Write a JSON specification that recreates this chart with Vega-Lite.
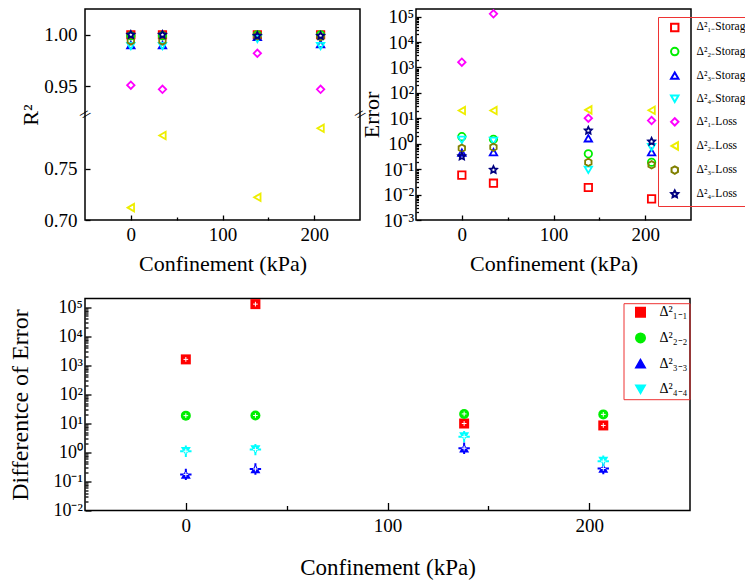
{
  "$schema": "https://vega.github.io/schema/vega-lite/v6.json",
  "background": "white",
  "padding": {"left": 7, "top": 5, "right": 0, "bottom": 0},
  "bounds": "flush",
  "spacing": 289.5,
  "resolve": {
    "scale": {"color": "independent", "shape": "independent", "stroke": "independent"},
    "legend": {"color": "independent", "shape": "independent"}
  },
  "datasets": {
    "r2": [
      {"kPa": 0, "series": "Δ²₁₋Storage", "r2": 1.000},
      {"kPa": 0, "series": "Δ²₂₋Storage", "r2": 0.999},
      {"kPa": 0, "series": "Δ²₃₋Storage", "r2": 0.990},
      {"kPa": 0, "series": "Δ²₄₋Storage", "r2": 0.989},
      {"kPa": 0, "series": "Δ²₁₋Loss", "r2": 0.951},
      {"kPa": 0, "series": "Δ²₂₋Loss", "r2": 0.712},
      {"kPa": 0, "series": "Δ²₃₋Loss", "r2": 0.994},
      {"kPa": 0, "series": "Δ²₄₋Loss", "r2": 1.000},
      {"kPa": 34.5, "series": "Δ²₁₋Storage", "r2": 1.000},
      {"kPa": 34.5, "series": "Δ²₂₋Storage", "r2": 0.999},
      {"kPa": 34.5, "series": "Δ²₃₋Storage", "r2": 0.990},
      {"kPa": 34.5, "series": "Δ²₄₋Storage", "r2": 0.989},
      {"kPa": 34.5, "series": "Δ²₁₋Loss", "r2": 0.947},
      {"kPa": 34.5, "series": "Δ²₂₋Loss", "r2": 0.782},
      {"kPa": 34.5, "series": "Δ²₃₋Loss", "r2": 0.994},
      {"kPa": 34.5, "series": "Δ²₄₋Loss", "r2": 1.000},
      {"kPa": 138, "series": "Δ²₁₋Storage", "r2": 1.000},
      {"kPa": 138, "series": "Δ²₂₋Storage", "r2": 1.000},
      {"kPa": 138, "series": "Δ²₃₋Storage", "r2": 0.998},
      {"kPa": 138, "series": "Δ²₄₋Storage", "r2": 0.996},
      {"kPa": 138, "series": "Δ²₁₋Loss", "r2": 0.982},
      {"kPa": 138, "series": "Δ²₂₋Loss", "r2": 0.722},
      {"kPa": 138, "series": "Δ²₃₋Loss", "r2": 0.999},
      {"kPa": 138, "series": "Δ²₄₋Loss", "r2": 0.999},
      {"kPa": 207, "series": "Δ²₁₋Storage", "r2": 1.000},
      {"kPa": 207, "series": "Δ²₂₋Storage", "r2": 1.000},
      {"kPa": 207, "series": "Δ²₃₋Storage", "r2": 0.991},
      {"kPa": 207, "series": "Δ²₄₋Storage", "r2": 0.989},
      {"kPa": 207, "series": "Δ²₁₋Loss", "r2": 0.947},
      {"kPa": 207, "series": "Δ²₂₋Loss", "r2": 0.789},
      {"kPa": 207, "series": "Δ²₃₋Loss", "r2": 0.998},
      {"kPa": 207, "series": "Δ²₄₋Loss", "r2": 0.999}
    ],
    "err": [
      {"kPa": 0, "series": "Δ²₁₋Storage", "err": 0.058},
      {"kPa": 0, "series": "Δ²₂₋Storage", "err": 1.9},
      {"kPa": 0, "series": "Δ²₃₋Storage", "err": 0.45},
      {"kPa": 0, "series": "Δ²₄₋Storage", "err": 1.42},
      {"kPa": 0, "series": "Δ²₁₋Loss", "err": 1620},
      {"kPa": 0, "series": "Δ²₂₋Loss", "err": 20.2},
      {"kPa": 0, "series": "Δ²₃₋Loss", "err": 0.665},
      {"kPa": 0, "series": "Δ²₄₋Loss", "err": 0.32},
      {"kPa": 34.5, "series": "Δ²₁₋Storage", "err": 0.028},
      {"kPa": 34.5, "series": "Δ²₂₋Storage", "err": 1.5},
      {"kPa": 34.5, "series": "Δ²₃₋Storage", "err": 0.47},
      {"kPa": 34.5, "series": "Δ²₄₋Storage", "err": 1.3},
      {"kPa": 34.5, "series": "Δ²₁₋Loss", "err": 129000},
      {"kPa": 34.5, "series": "Δ²₂₋Loss", "err": 20.2},
      {"kPa": 34.5, "series": "Δ²₃₋Loss", "err": 0.73},
      {"kPa": 34.5, "series": "Δ²₄₋Loss", "err": 0.094},
      {"kPa": 138, "series": "Δ²₁₋Storage", "err": 0.019},
      {"kPa": 138, "series": "Δ²₂₋Storage", "err": 0.40},
      {"kPa": 138, "series": "Δ²₃₋Storage", "err": 1.64},
      {"kPa": 138, "series": "Δ²₄₋Storage", "err": 0.094},
      {"kPa": 138, "series": "Δ²₁₋Loss", "err": 10.1},
      {"kPa": 138, "series": "Δ²₂₋Loss", "err": 21.5},
      {"kPa": 138, "series": "Δ²₃₋Loss", "err": 0.187},
      {"kPa": 138, "series": "Δ²₄₋Loss", "err": 3.3},
      {"kPa": 207, "series": "Δ²₁₋Storage", "err": 0.0068},
      {"kPa": 207, "series": "Δ²₂₋Storage", "err": 0.187},
      {"kPa": 207, "series": "Δ²₃₋Storage", "err": 0.47},
      {"kPa": 207, "series": "Δ²₄₋Storage", "err": 0.73},
      {"kPa": 207, "series": "Δ²₁₋Loss", "err": 8.2},
      {"kPa": 207, "series": "Δ²₂₋Loss", "err": 20.8},
      {"kPa": 207, "series": "Δ²₃₋Loss", "err": 0.148},
      {"kPa": 207, "series": "Δ²₄₋Loss", "err": 1.22}
    ],
    "diff": [
      {"kPa": 0, "series": "Δ²₁₋₁", "diff": 1600},
      {"kPa": 0, "series": "Δ²₂₋₂", "diff": 18.5},
      {"kPa": 0, "series": "Δ²₃₋₃", "diff": 0.175},
      {"kPa": 0, "series": "Δ²₄₋₄", "diff": 1.1},
      {"kPa": 34.5, "series": "Δ²₁₋₁", "diff": 128000},
      {"kPa": 34.5, "series": "Δ²₂₋₂", "diff": 18.7},
      {"kPa": 34.5, "series": "Δ²₃₋₃", "diff": 0.27},
      {"kPa": 34.5, "series": "Δ²₄₋₄", "diff": 1.25},
      {"kPa": 138, "series": "Δ²₁₋₁", "diff": 9.9},
      {"kPa": 138, "series": "Δ²₂₋₂", "diff": 21.2},
      {"kPa": 138, "series": "Δ²₃₋₃", "diff": 1.4},
      {"kPa": 138, "series": "Δ²₄₋₄", "diff": 3.5},
      {"kPa": 207, "series": "Δ²₁₋₁", "diff": 8.5},
      {"kPa": 207, "series": "Δ²₂₋₂", "diff": 20.4},
      {"kPa": 207, "series": "Δ²₃₋₃", "diff": 0.28},
      {"kPa": 207, "series": "Δ²₄₋₄", "diff": 0.5}
    ]
  },
  "vconcat": [
    {
      "hconcat": [
        {
          "width": 275,
          "height": 211,
          "layer": [
            {
              "data": {"name": "r2"},
              "mark": {"type": "point", "filled": false, "strokeWidth": 1.8, "size": 55, "opacity": 1},
              "encoding": {
                "x": {
                  "field": "kPa", "type": "quantitative",
                  "scale": {"domain": [-50, 250], "nice": false, "zero": false},
                  "axis": {
                    "title": "Confinement (kPa)",
                    "values": [0, 50, 100, 150, 200],
                    "labelExpr": "datum.value % 100 === 0 ? datum.label : ''",
                    "tickSize": {"condition": {"test": "datum.value % 100 === 0", "value": -5}, "value": -3}
                  }
                },
                "y": {
                  "field": "r2", "type": "quantitative",
                  "scale": {"domain": [0.70, 0.80, 0.925, 1.025], "range": [211, 108, 103, 0], "nice": false, "zero": false},
                  "axis": {
                    "title": "R²",
                    "labelPadding": 13,
                    "titlePadding": 1.5,
                    "values": [0.70, 0.725, 0.75, 0.775, 0.95, 0.975, 1.00],
                    "labelExpr": "round(datum.value * 1000) % 50 === 0 ? format(datum.value, '.2f') : ''",
                    "tickSize": {"condition": {"test": "round(datum.value * 1000) % 50 === 0", "value": -5}, "value": -3}
                  }
                },
                "color": {
                  "field": "series", "type": "nominal",
                  "scale": {
                    "domain": ["Δ²₁₋Storage", "Δ²₂₋Storage", "Δ²₃₋Storage", "Δ²₄₋Storage", "Δ²₁₋Loss", "Δ²₂₋Loss", "Δ²₃₋Loss", "Δ²₄₋Loss"],
                    "range": ["#ff0000", "#00ee00", "#0000ff", "#00ffff", "#ff00ff", "#eeee00", "#808000", "#000080"]
                  },
                  "legend": null
                },
                "shape": {
                  "field": "series", "type": "nominal",
                  "scale": {
                    "domain": ["Δ²₁₋Storage", "Δ²₂₋Storage", "Δ²₃₋Storage", "Δ²₄₋Storage", "Δ²₁₋Loss", "Δ²₂₋Loss", "Δ²₃₋Loss", "Δ²₄₋Loss"],
                    "range": ["square", "circle", "triangle-up", "triangle-down", "diamond", "triangle-left", "M0,-1L0.866,-0.5L0.866,0.5L0,1L-0.866,0.5L-0.866,-0.5Z", "M0,-1L0.294,-0.405L0.951,-0.309L0.476,0.155L0.588,0.809L0,0.5L-0.588,0.809L-0.476,0.155L-0.951,-0.309L-0.294,-0.405Z"]
                  },
                  "legend": null
                }
              }
            },
            {
              "data": {"values": [{}]},
              "mark": {"type": "text", "text": "//", "fontSize": 13, "fontWeight": "bold", "angle": 40, "color": "black"},
              "encoding": {"x": {"datum": -50}, "y": {"datum": 0.8625}}
            },
            {
              "data": {"values": [{}]},
              "mark": {"type": "text", "text": "//", "fontSize": 13, "fontWeight": "bold", "angle": 40, "color": "black"},
              "encoding": {"x": {"datum": 250}, "y": {"datum": 0.8625}}
            }
          ]
        },
        {
          "width": 275,
          "height": 211,
          "data": {"name": "err"},
          "mark": {"type": "point", "filled": false, "strokeWidth": 1.8, "size": 55, "opacity": 1},
          "encoding": {
            "x": {
              "field": "kPa", "type": "quantitative",
              "scale": {"domain": [-50, 250], "nice": false, "zero": false},
              "axis": {
                "title": "Confinement (kPa)",
                "values": [0, 50, 100, 150, 200],
                "labelExpr": "datum.value % 100 === 0 ? datum.label : ''",
                "tickSize": {"condition": {"test": "datum.value % 100 === 0", "value": -5}, "value": -3}
              }
            },
            "y": {
              "field": "err", "type": "quantitative",
              "scale": {"type": "log", "domain": [0.001, 200000], "nice": false},
              "axis": {
                "title": "Error",
                "titlePadding": -0.3,
                "labelPadding": 7.3,
                "values": [0.001, 0.002, 0.003, 0.004, 0.005, 0.006, 0.007, 0.008, 0.009, 0.01, 0.02, 0.03, 0.04, 0.05, 0.06, 0.07, 0.08, 0.09, 0.1, 0.2, 0.3, 0.4, 0.5, 0.6, 0.7, 0.8, 0.9, 1, 2, 3, 4, 5, 6, 7, 8, 9, 10, 20, 30, 40, 50, 60, 70, 80, 90, 100, 200, 300, 400, 500, 600, 700, 800, 900, 1000, 2000, 3000, 4000, 5000, 6000, 7000, 8000, 9000, 10000, 20000, 30000, 40000, 50000, 60000, 70000, 80000, 90000, 100000],
                "labelExpr": "abs(log(datum.value) / LN10 - round(log(datum.value) / LN10)) < 0.01 ? '10' + ['⁻³', '⁻²', '⁻¹', '⁰', '¹', '²', '³', '⁴', '⁵'][round(log(datum.value) / LN10) + 3] : ''",
                "tickSize": {"condition": {"test": "abs(log(datum.value) / LN10 - round(log(datum.value) / LN10)) < 0.01", "value": -5}, "value": -2.5}
              }
            },
            "color": {
              "field": "series", "type": "nominal",
              "scale": {
                "domain": ["Δ²₁₋Storage", "Δ²₂₋Storage", "Δ²₃₋Storage", "Δ²₄₋Storage", "Δ²₁₋Loss", "Δ²₂₋Loss", "Δ²₃₋Loss", "Δ²₄₋Loss"],
                "range": ["#ff0000", "#00ee00", "#0000ff", "#00ffff", "#ff00ff", "#eeee00", "#808000", "#000080"]
              },
              "legend": {
                "orient": "none", "legendX": 242, "legendY": 8, "title": null,
                "strokeColor": "#ee3333", "padding": 4.7, "labelFontSize": 11.5,
                "symbolStrokeWidth": 2, "symbolSize": 55, "symbolOffset": 6.3, "labelOffset": 16, "rowPadding": 8.1
              }
            },
            "shape": {
              "field": "series", "type": "nominal",
              "scale": {
                "domain": ["Δ²₁₋Storage", "Δ²₂₋Storage", "Δ²₃₋Storage", "Δ²₄₋Storage", "Δ²₁₋Loss", "Δ²₂₋Loss", "Δ²₃₋Loss", "Δ²₄₋Loss"],
                "range": ["square", "circle", "triangle-up", "triangle-down", "diamond", "triangle-left", "M0,-1L0.866,-0.5L0.866,0.5L0,1L-0.866,0.5L-0.866,-0.5Z", "M0,-1L0.294,-0.405L0.951,-0.309L0.476,0.155L0.588,0.809L0,0.5L-0.588,0.809L-0.476,0.155L-0.951,-0.309L-0.294,-0.405Z"]
              },
              "legend": {
                "orient": "none", "legendX": 242, "legendY": 8, "title": null,
                "strokeColor": "#ee3333", "padding": 4.7, "labelFontSize": 11.5,
                "symbolStrokeWidth": 2, "symbolSize": 55, "symbolOffset": 6.3, "labelOffset": 16, "rowPadding": 8.1
              }
            }
          }
        }
      ],
      "spacing": 56,
      "bounds": "flush",
      "resolve": {
        "scale": {"color": "independent", "shape": "independent"},
        "legend": {"color": "independent", "shape": "independent"}
      }
    },
    {
      "width": 605,
      "height": 212,
      "data": {"name": "diff"},
      "layer": [
        {
          "mark": {"type": "point", "filled": true, "size": 100, "opacity": 1},
          "encoding": {
            "x": {
              "field": "kPa", "type": "quantitative",
              "scale": {"domain": [-50, 250], "nice": false, "zero": false},
              "axis": {
                "title": "Confinement (kPa)",
                "titleFontSize": 23,
                "values": [0, 50, 100, 150, 200],
                "labelExpr": "datum.value % 100 === 0 ? datum.label : ''",
                "tickSize": {"condition": {"test": "datum.value % 100 === 0", "value": -8}, "value": -5},
                "labelPadding": 14,
                "titlePadding": 18
              }
            },
            "y": {
              "field": "diff", "type": "quantitative",
              "scale": {"type": "log", "domain": [0.01, 200000], "nice": false},
              "axis": {
                "title": "Differentce of Error",
                "titleFontSize": 24,
                "titlePadding": 20.4,
                "labelPadding": 8.6,
                "labelFontSize": 18,
                "values": [0.01, 0.02, 0.03, 0.04, 0.05, 0.06, 0.07, 0.08, 0.09, 0.1, 0.2, 0.3, 0.4, 0.5, 0.6, 0.7, 0.8, 0.9, 1, 2, 3, 4, 5, 6, 7, 8, 9, 10, 20, 30, 40, 50, 60, 70, 80, 90, 100, 200, 300, 400, 500, 600, 700, 800, 900, 1000, 2000, 3000, 4000, 5000, 6000, 7000, 8000, 9000, 10000, 20000, 30000, 40000, 50000, 60000, 70000, 80000, 90000, 100000],
                "labelExpr": "abs(log(datum.value) / LN10 - round(log(datum.value) / LN10)) < 0.01 ? '10' + ['⁻²', '⁻¹', '⁰', '¹', '²', '³', '⁴', '⁵'][round(log(datum.value) / LN10) + 2] : ''",
                "tickSize": {"condition": {"test": "abs(log(datum.value) / LN10 - round(log(datum.value) / LN10)) < 0.01", "value": -6}, "value": -3}
              }
            },
            "color": {
              "field": "series", "type": "nominal",
              "scale": {"domain": ["Δ²₁₋₁", "Δ²₂₋₂", "Δ²₃₋₃", "Δ²₄₋₄"], "range": ["#ff0000", "#00ee00", "#0000ff", "#00ffff"]},
              "legend": {
                "orient": "none", "legendX": 538.5, "legendY": 4.7, "title": null,
                "strokeColor": "#ee3333", "padding": 2, "labelFontSize": 14,
                "symbolSize": 90, "symbolOffset": 8, "labelOffset": 12, "rowPadding": 9.7
              }
            },
            "shape": {
              "field": "series", "type": "nominal",
              "scale": {"domain": ["Δ²₁₋₁", "Δ²₂₋₂", "Δ²₃₋₃", "Δ²₄₋₄"], "range": ["square", "circle", "triangle-up", "triangle-down"]},
              "legend": {
                "orient": "none", "legendX": 538.5, "legendY": 4.7, "title": null,
                "strokeColor": "#ee3333", "padding": 2, "labelFontSize": 14,
                "symbolSize": 90, "symbolOffset": 8, "labelOffset": 12, "rowPadding": 9.7
              }
            }
          }
        },
        {
          "transform": [{"filter": "datum.series === 'Δ²₃₋₃' || datum.series === 'Δ²₄₋₄'"}],
          "mark": {"type": "point", "filled": false, "shape": "M-1,0L1,0M0,-1L0,1", "size": 130, "strokeWidth": 2, "opacity": 1},
          "encoding": {
            "x": {"field": "kPa", "type": "quantitative"},
            "y": {"field": "diff", "type": "quantitative"},
            "stroke": {
              "field": "series", "type": "nominal",
              "scale": {"domain": ["Δ²₁₋₁", "Δ²₂₋₂", "Δ²₃₋₃", "Δ²₄₋₄"], "range": ["#ff0000", "#00ee00", "#0000ff", "#00ffff"]},
              "legend": null
            }
          }
        },
        {
          "mark": {"type": "point", "filled": false, "shape": "M-1,0L1,0M0,-1L0,1", "size": 22, "strokeWidth": 1, "color": "white", "opacity": 1},
          "encoding": {
            "x": {"field": "kPa", "type": "quantitative"},
            "y": {"field": "diff", "type": "quantitative"}
          }
        }
      ]
    }
  ],
  "config": {
    "font": "Liberation Serif",
    "view": {"stroke": "black", "strokeWidth": 1.5},
    "axis": {
      "labelFont": "Liberation Serif", "titleFont": "Liberation Serif",
      "labelFontSize": 19, "titleFontSize": 22, "titleFontWeight": "normal",
      "labelColor": "black", "titleColor": "black",
      "domain": false, "grid": false,
      "tickColor": "black", "tickWidth": 1.3,
      "labelPadding": 10, "titlePadding": 7,
      "labelFlush": false, "labelOverlap": false, "labelBound": false
    },
    "legend": {
      "labelFont": "Liberation Serif", "labelColor": "black"
    }
  }
}
